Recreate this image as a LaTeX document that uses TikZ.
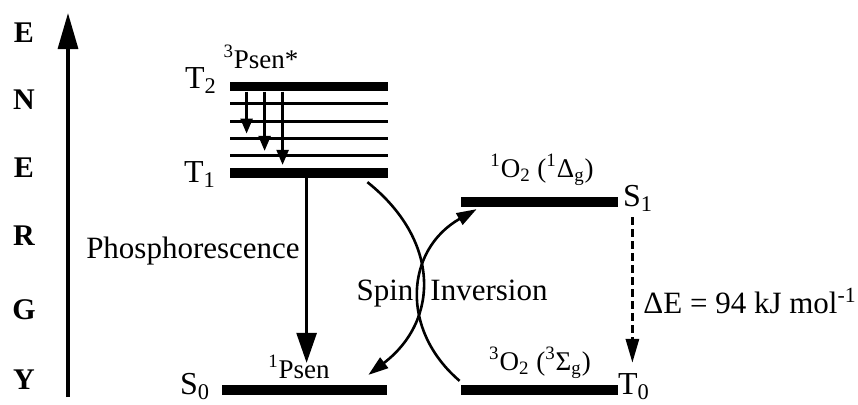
\documentclass[tikz,border=0pt]{standalone}
\usepackage{fontspec}
\setmainfont{Liberation Serif}
\usetikzlibrary{arrows.meta}

\begin{document}
\begin{tikzpicture}[
    x=0.5pt, y=-0.5pt,
    level/.style={fill=black, inner sep=0pt, minimum height=4.75pt},
    sublevel/.style={fill=black, inner sep=0pt, minimum height=1.5pt, minimum width=79pt},
    letter/.style={inner sep=0pt, font=\fontsize{15}{17}\selectfont\bfseries},
    lbl/.style={inner sep=0pt, anchor=base, font=\fontsize{16}{18}\selectfont},
    state/.style={inner sep=0pt, anchor=base, font=\fontsize{13.5}{15}\selectfont},
    txt/.style={inner sep=0pt, anchor=base, font=\fontsize{15.5}{18}\selectfont},
    axis/.style={-{Triangle[length=18pt,width=10pt]}, line width=1.6pt},
    arrow/.style={-{Triangle[length=15pt,width=10pt]}, line width=1.4pt},
    smallarrow/.style={-{Triangle[length=7.5pt,width=6pt]}, line width=1.2pt, shorten >=1.5pt},
    curve/.style={-{Triangle[length=10pt,width=6.5pt]}, line width=1.3pt},
    dasharrow/.style={-{Triangle[length=12pt,width=6.5pt]}, line width=1.5pt, dash pattern=on 4pt off 2pt}
]
\useasboundingbox (0,0) rectangle (858,404);

% energy axis
\coordinate (ebot) at (68,397);
\coordinate (etop) at (68,13);
\draw[axis] (ebot) -- (etop);
\foreach \c/\y [count=\i] in {E/33,N/100,E/168,R/236,G/310,Y/380}
    \node[letter] (e\i) at (24,\y) {\c};

% sensitizer levels
\node[level, minimum width=79pt] (T2) at (309,86.5) {};
\node[level, minimum width=79pt] (T1) at (309,173) {};
\foreach \y [count=\i] in {103.9,121.2,138.5,155.8}
    \node[sublevel] (v\i) at (309,\y) {};
\node[level, minimum width=82.5pt] (S0) at (304.5,390) {};

% oxygen levels
\node[level, minimum width=78.5pt] (S1) at (539.5,202) {};
\node[level, minimum width=78.5pt] (T0) at (539.5,390) {};

\node[lbl] (T2lab) at (201,88) {T\textsubscript{2}};
\node[lbl] (T1lab) at (200,182) {T\textsubscript{1}};
\node[lbl] (S0lab) at (195,394) {S\textsubscript{0}};
\node[lbl] (S1lab) at (638,206) {S\textsubscript{1}};
\node[lbl] (T0lab) at (634,394) {T\textsubscript{0}};

\node[state] (psen3) at (261,68) {\textsuperscript{3}Psen*};
\node[state] (psen1) at (299,378) {\textsuperscript{1}Psen};
\node[state] (o2s) at (542,177) {\textsuperscript{1}O\textsubscript{2} (\textsuperscript{1}Δ\textsubscript{g})};
\node[state] (o2t) at (540,370) {\textsuperscript{3}O\textsubscript{2} (\textsuperscript{3}Σ\textsubscript{g})};

\node[txt] (phos) at (193,258) {Phosphorescence};
\node[txt] (spin) at (385,300) {Spin};
\node[txt] (inv) at (489,300) {Inversion};
\node[txt, anchor=base west] (dE) at (643,313) {ΔE = 94 kJ mol\textsuperscript{-1}};

\draw[smallarrow] ([xshift=8.5pt]T2.south west) -- ([xshift=8.5pt]v3.north west);
\draw[smallarrow] ([xshift=17.5pt]T2.south west) -- ([xshift=17.5pt]v4.north west);
\draw[smallarrow] ([xshift=26.5pt]T2.south west) -- ([xshift=26.5pt]T1.north west);

\draw[arrow] ([xshift=38.5pt]T1.south west) -- ([xshift=42.5pt,yshift=11pt]S0.north west);
\draw[curve] ([xshift=-10.5pt,yshift=-2pt]T1.south east) .. controls (440,240) and (440,320) .. ([xshift=-9.5pt,yshift=5pt]S0.north east);
\draw[curve] ([xshift=-0.5pt,yshift=2pt]T0.north west) .. controls (400,330) and (405,250) .. ([xshift=8pt,yshift=-1pt]S1.south west);
\draw[dasharrow] ([xshift=7pt,yshift=-5pt]S1.south east) -- ([xshift=7pt,yshift=11pt]T0.north east);

\end{tikzpicture}
\end{document}
